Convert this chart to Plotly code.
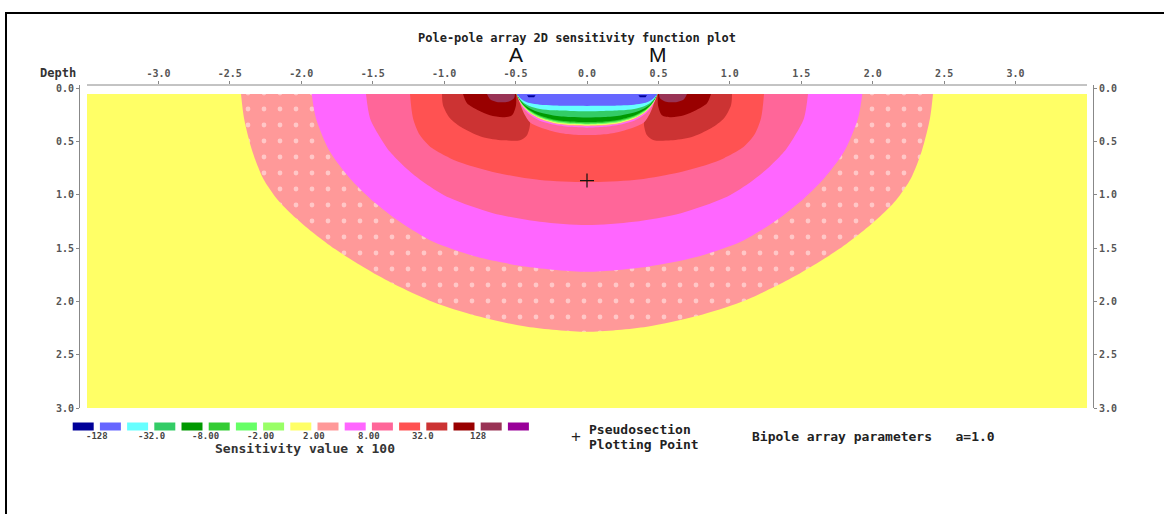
import plotly.graph_objects as go

# ---------------------------------------------------------------- axes
x_ticks = [-3.0, -2.5, -2.0, -1.5, -1.0, -0.5, 0.0, 0.5, 1.0, 1.5, 2.0, 2.5, 3.0]
x_tick_text = ["-3.0", "-2.5", "-2.0", "-1.5", "-1.0", "-0.5", "0.0",
               "0.5", "1.0", "1.5", "2.0", "2.5", "3.0"]
depth_ticks = [0.0, 0.5, 1.0, 1.5, 2.0, 2.5, 3.0]
depth_tick_text = ["0.0", "0.5", "1.0", "1.5", "2.0", "2.5", "3.0"]

# electrodes and pseudosection plotting point
electrode_names = ["A", "M"]
electrode_x = [-0.5, 0.5]
plot_point_x = [0.0]
plot_point_depth = [0.867]

# extent of the model section
section_x = [-3.5, 3.5]
section_depth = [0.055, 3.0]

# ---------------------------------------------------------------- contour outlines
# Large bands: left half of each outline, from the surface to the centre line
# (the section is symmetric about x = 0).
salmon_x = [-2.422, -2.401, -2.345, -2.268, -2.163, -2.037, -1.904, -1.764,
            -1.624, -1.470, -1.309, -1.078, -0.770, -0.420, 0.0]
salmon_d = [0.055, 0.281, 0.581, 0.844, 1.050, 1.219, 1.369, 1.509,
            1.631, 1.753, 1.866, 2.006, 2.138, 2.238, 2.285]

magenta_x = [-1.927, -1.897, -1.799, -1.659, -1.519, -1.356, -1.239, -1.076,
             -0.772, -0.422, 0.0]
magenta_d = [0.055, 0.284, 0.597, 0.847, 1.034, 1.210, 1.315, 1.440,
             1.582, 1.675, 1.722]

pink_x = [-1.547, -1.519, -1.449, -1.379, -1.274, -1.134, -0.959, -0.658,
          -0.329, 0.0]
pink_d = [0.055, 0.281, 0.459, 0.597, 0.741, 0.891, 1.031, 1.172,
          1.253, 1.284]

red_x = [-1.239, -1.218, -1.169, -1.085, -0.959, -0.840, -0.609, -0.329, 0.0]
red_d = [0.055, 0.281, 0.441, 0.562, 0.656, 0.717, 0.800, 0.862, 0.881]

# Lobes beside the current electrode (closed outlines); the potential
# electrode side is their mirror image.
brick_lobe_x = [-1.015, -1.008, -0.959, -0.868, -0.728, -0.588, -0.469,
                -0.420, -0.399, -0.448, -0.490]
brick_lobe_d = [0.055, 0.159, 0.281, 0.375, 0.459, 0.488, 0.488,
                0.441, 0.319, 0.188, 0.055]

darkred_lobe_x = [-0.868, -0.840, -0.763, -0.679, -0.588, -0.525, -0.497, -0.497]
darkred_lobe_d = [0.055, 0.141, 0.206, 0.253, 0.272, 0.253, 0.159, 0.055]

maroon_lobe_x = [-0.700, -0.679, -0.623, -0.553, -0.511, -0.504]
maroon_lobe_d = [0.055, 0.103, 0.131, 0.127, 0.094, 0.055]

navy_spot_x = [-0.42, -0.36, -0.37, -0.41]
navy_spot_d = [0.065, 0.065, 0.085, 0.085]

# Bowl between the electrodes: left half of each ring outline.
bowl_pink_x = [-0.492, -0.470, -0.440, -0.400, -0.330, -0.190, -0.080, 0.0]
bowl_pink_d = [0.055, 0.140, 0.240, 0.319, 0.366, 0.420, 0.437, 0.440]

bowl_x = [-0.492, -0.474, -0.446, -0.400, -0.330, -0.236, -0.119, 0.0]
bowl_magenta_d = [0.055, 0.120, 0.185, 0.250, 0.305, 0.340, 0.362, 0.370]
bowl_salmon_d = [0.055, 0.116, 0.177, 0.237, 0.292, 0.330, 0.352, 0.358]
bowl_yellow_d = [0.055, 0.113, 0.172, 0.231, 0.285, 0.323, 0.344, 0.350]
bowl_ygreen_d = [0.055, 0.110, 0.167, 0.225, 0.278, 0.316, 0.337, 0.343]
bowl_lgreen_d = [0.055, 0.108, 0.163, 0.220, 0.272, 0.310, 0.331, 0.337]
bowl_green_d = [0.055, 0.106, 0.159, 0.215, 0.266, 0.303, 0.324, 0.330]
bowl_dgreen_d = [0.055, 0.104, 0.155, 0.208, 0.257, 0.293, 0.312, 0.318]
bowl_mgreen_d = [0.055, 0.100, 0.145, 0.190, 0.228, 0.255, 0.270, 0.274]
bowl_cyan_d = [0.055, 0.095, 0.135, 0.170, 0.195, 0.208, 0.214, 0.216]
bowl_blue_d = [0.055, 0.085, 0.115, 0.140, 0.155, 0.162, 0.165, 0.166]

# ---------------------------------------------------------------- colour scale
legend_colors = ["#000099", "#6666ff", "#66ffff", "#33cc66", "#009900",
                 "#33cc33", "#66ff66", "#99ff66", "#ffff66", "#ff9999",
                 "#ff66ff", "#ff6699", "#ff5252", "#cc3333", "#990000",
                 "#993355", "#990099"]
legend_labels = ["-128", "-32.0", "-8.00", "-2.00", "2.00", "8.00", "32.0", "128"]

C = dict(zip(["navy", "blue", "cyan", "mgreen", "dgreen", "green", "lgreen",
              "ygreen", "yellow", "salmon", "magenta", "pink", "red", "brick",
              "darkred", "maroon", "purple"], legend_colors))

# ---------------------------------------------------------------- page geometry (px)
W, H = 1164, 514
PL, PR, PT, PB = 80, 1093, 85, 408          # plot area


def px2x(px):
    return (px - PL) / (PR - PL)


def py2y(py):
    return (PB - py) / (PB - PT)


MONO = "DejaVu Sans Mono"
SANS = "Liberation Sans"


def mirrored(xs, ds):
    """Close a half outline into a full symmetric outline."""
    fx = list(xs) + [-x for x in reversed(xs[:-1])]
    fd = list(ds) + list(reversed(ds[:-1]))
    return fx, fd


fig = go.Figure()


def band(xs, ds, color, smooth=True, **kw):
    fig.add_trace(go.Scatter(
        x=xs, y=ds, mode="lines", fill="toself", fillcolor=color,
        line=dict(width=0, color=color,
                  shape="spline" if smooth else "linear", smoothing=0.8),
        hoverinfo="skip", showlegend=False, **kw))


# background of the section
band([section_x[0], section_x[1], section_x[1], section_x[0]],
     [section_depth[0], section_depth[0], section_depth[1], section_depth[1]],
     C["yellow"], smooth=False)

bx, bd = mirrored(salmon_x, salmon_d)
band(bx, bd, C["salmon"],
     fillpattern=dict(shape=".", size=16, solidity=0.07, fgcolor="#ffffff",
                      fgopacity=0.45, bgcolor=C["salmon"], fillmode="overlay"))
for xs, ds, col in [(magenta_x, magenta_d, C["magenta"]),
                    (pink_x, pink_d, C["pink"]),
                    (red_x, red_d, C["red"])]:
    bx, bd = mirrored(xs, ds)
    band(bx, bd, col)

for xs, ds, col in [(brick_lobe_x, brick_lobe_d, C["brick"]),
                    (darkred_lobe_x, darkred_lobe_d, C["darkred"]),
                    (maroon_lobe_x, maroon_lobe_d, C["maroon"])]:
    band(xs, ds, col)
    band([-x for x in xs], ds, col)

bx, bd = mirrored(bowl_pink_x, bowl_pink_d)
band(bx, bd, C["pink"])
for ds, col in [(bowl_magenta_d, C["magenta"]), (bowl_salmon_d, C["salmon"]),
                (bowl_yellow_d, C["yellow"]), (bowl_ygreen_d, C["ygreen"]),
                (bowl_lgreen_d, C["lgreen"]), (bowl_green_d, C["green"]),
                (bowl_dgreen_d, C["dgreen"]), (bowl_mgreen_d, C["mgreen"]),
                (bowl_cyan_d, C["cyan"]), (bowl_blue_d, C["blue"])]:
    bx, bd = mirrored(bowl_x, ds)
    band(bx, bd, col)

band(navy_spot_x, navy_spot_d, C["navy"], smooth=False)
band([-x for x in navy_spot_x], navy_spot_d, C["navy"], smooth=False)

# pseudosection plotting point
fig.add_trace(go.Scatter(x=plot_point_x, y=plot_point_depth, mode="markers",
                         marker=dict(symbol="cross-thin", size=10,
                                     line=dict(color="#111111", width=1.2)),
                         hoverinfo="skip", showlegend=False))
# right-hand depth axis
fig.add_trace(go.Scatter(x=[None], y=[None], yaxis="y2", mode="markers",
                         showlegend=False, hoverinfo="skip"))

axis_font = dict(family=MONO, size=10, color="#555555", weight="bold")
xr0 = section_x[0] - (section_x[1] - section_x[0]) * (87 - PL) / (1087 - 87)
xr1 = section_x[1] + (section_x[1] - section_x[0]) * (PR - 1087) / (1087 - 87)
y_common = dict(range=[3.0, -0.03], tickvals=depth_ticks, ticktext=depth_tick_text,
                ticks="outside", ticklen=3, tickcolor="#888888", showline=True,
                linecolor="#888888", linewidth=1, showgrid=False, zeroline=False,
                tickfont=axis_font)

fig.update_layout(
    width=W, height=H,
    margin=dict(l=PL, r=W - PR, t=PT, b=H - PB),
    paper_bgcolor="white", plot_bgcolor="white",
    xaxis=dict(range=[xr0, xr1], side="top", tickvals=x_ticks, ticktext=x_tick_text,
               ticks="outside", ticklen=3, tickcolor="#888888", showline=False,
               showgrid=False, zeroline=False, tickfont=axis_font),
    yaxis=dict(side="left", **y_common),
    yaxis2=dict(side="right", overlaying="y", anchor="x", **y_common),
)

shapes = [
    # top axis line over the section
    dict(type="line", xref="x", yref="paper", x0=section_x[0], x1=section_x[1],
         y0=1, y1=1, line=dict(color="#888888", width=1)),
    # frame
    dict(type="rect", xref="paper", yref="paper", x0=px2x(6), x1=px2x(1180),
         y0=py2y(530), y1=py2y(13), line=dict(color="black", width=2)),
]

# colour scale boxes
box_x0, box_step, box_w = 72.7, 27.2, 21.0
for i, col in enumerate(legend_colors):
    x0 = box_x0 + i * box_step
    shapes.append(dict(type="rect", xref="paper", yref="paper",
                       x0=px2x(x0), x1=px2x(x0 + box_w),
                       y0=py2y(430.5), y1=py2y(422.5),
                       fillcolor=col, line=dict(width=0)))

annotations = []
for k, lab in enumerate(legend_labels):
    cx = box_x0 + (2 * k) * box_step + box_w + (box_step - box_w) / 2
    annotations.append(dict(text=lab, x=px2x(cx), y=py2y(436.5), xref="paper",
                            yref="paper", showarrow=False, xanchor="center",
                            yanchor="middle",
                            font=dict(family=MONO, size=9, color="#444444",
                                      weight="bold")))

annotations += [
    dict(text="Pole-pole array 2D sensitivity function plot", x=px2x(577),
         y=py2y(38), font=dict(family=MONO, size=12, color="#222222", weight="bold")),
    dict(text="Depth", x=px2x(58), y=py2y(73),
         font=dict(family=MONO, size=12, color="#333333", weight="bold")),
    dict(text="Sensitivity value x 100", x=px2x(305), y=py2y(448.5),
         font=dict(family=MONO, size=13, color="#333333", weight="bold")),
    dict(text="+", x=px2x(576), y=py2y(436),
         font=dict(family=SANS, size=17, color="#222222")),
    dict(text="Pseudosection", x=px2x(587), y=py2y(430), xanchor="left",
         font=dict(family=MONO, size=13, color="#222222", weight="bold")),
    dict(text="Plotting Point", x=px2x(587), y=py2y(444), xanchor="left",
         font=dict(family=MONO, size=13, color="#222222", weight="bold")),
    dict(text="Bipole array parameters   a=1.0", x=px2x(750), y=py2y(436),
         xanchor="left",
         font=dict(family=MONO, size=13, color="#222222", weight="bold")),
]
for name, ex in zip(electrode_names, electrode_x):
    annotations.append(dict(text=name, x=ex, xref="x", y=py2y(54), yref="paper",
                            font=dict(family=SANS, size=21, color="#111111")))

for a in annotations:
    a.setdefault("xref", "paper")
    a.setdefault("yref", "paper")
    a.setdefault("showarrow", False)
    a.setdefault("xanchor", "center")
    a.setdefault("yanchor", "middle")

fig.update_layout(shapes=shapes, annotations=annotations)
fig.write_html("out.html")
